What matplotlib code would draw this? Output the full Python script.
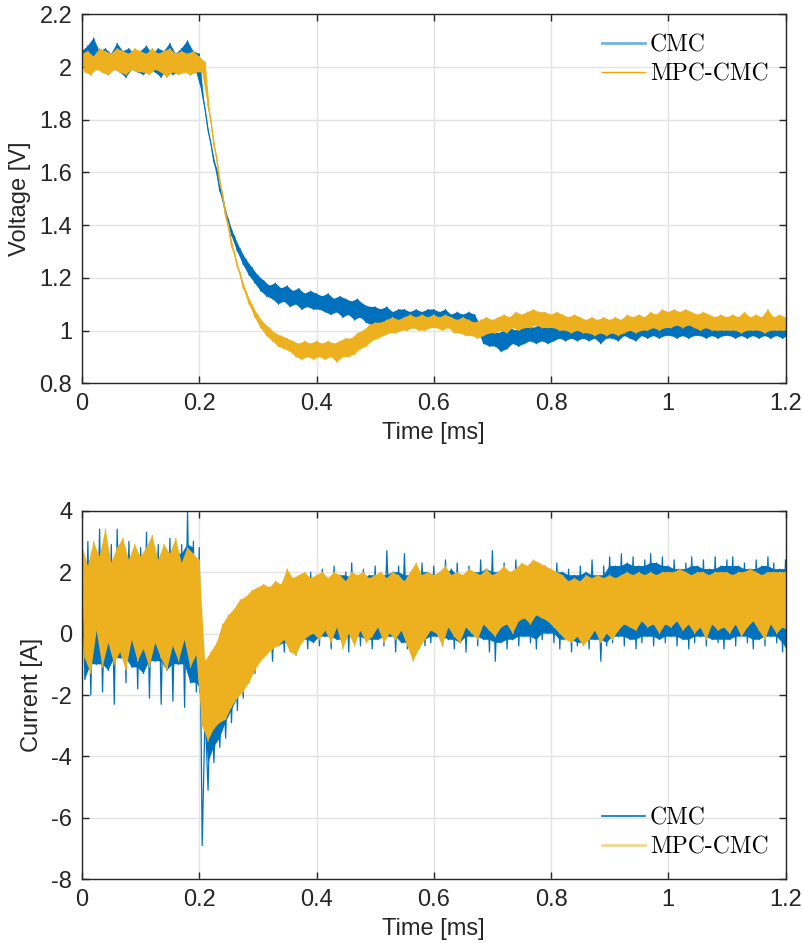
import numpy as np
import matplotlib
matplotlib.use("Agg")
import matplotlib.pyplot as plt
from matplotlib.lines import Line2D

plt.rcParams['font.family'] = ['Liberation Sans', 'DejaVu Sans']
plt.rcParams['axes.unicode_minus'] = False

# ---------------- data (envelope of noisy records) -------------
t_step = 0.01
n_pts = 121  # 0.00 ... 1.20 ms

v_cmc_hi = [2.06,2.08,2.11,2.06,2.07,2.05,2.09,2.06,2.07,2.05,
            2.06,2.08,2.05,2.07,2.06,2.09,2.05,2.07,2.10,2.06,
            2.05,1.84,1.71,1.61,1.51,1.42,1.36,1.31,1.27,1.24,
            1.21,1.19,1.17,1.18,1.16,1.17,1.15,1.16,1.14,1.15,
            1.14,1.13,1.14,1.12,1.13,1.12,1.11,1.12,1.10,1.09,
            1.09,1.08,1.09,1.07,1.08,1.08,1.07,1.08,1.07,1.08,
            1.08,1.07,1.08,1.06,1.07,1.06,1.07,1.06,1.02,1.01,
            1.00,0.99,1.00,1.01,1.00,1.01,1.02,1.01,1.02,1.01,
            1.02,1.01,1.03,1.02,1.04,1.02,1.03,1.02,1.03,1.04,
            1.03,1.02,1.03,1.02,1.03,1.02,1.03,1.02,1.03,1.04,
            1.03,1.04,1.03,1.02,1.03,1.04,1.02,1.03,1.02,1.03,
            1.02,1.03,1.02,1.04,1.02,1.03,1.02,1.03,1.02,1.03,1.02]
v_cmc_lo = [1.99,1.97,2.00,1.98,1.97,1.99,1.98,1.96,1.99,1.98,
            1.97,1.99,1.98,1.96,1.99,1.97,1.98,1.99,1.97,1.98,
            1.90,1.76,1.64,1.53,1.44,1.36,1.30,1.25,1.21,1.18,
            1.15,1.13,1.12,1.10,1.11,1.09,1.10,1.08,1.09,1.08,
            1.08,1.07,1.06,1.07,1.05,1.06,1.04,1.05,1.03,1.02,
            1.02,1.03,1.02,1.01,1.02,1.02,1.01,1.02,1.01,1.02,
            1.02,1.01,1.02,1.01,1.02,1.01,1.01,1.00,0.95,0.94,
            0.94,0.92,0.93,0.95,0.94,0.95,0.96,0.95,0.96,0.95,
            0.96,0.97,0.96,0.97,0.96,0.97,0.96,0.97,0.95,0.97,
            0.97,0.96,0.98,0.97,0.96,0.98,0.97,0.98,0.97,0.98,
            0.98,0.97,0.98,0.97,0.98,0.98,0.97,0.98,0.97,0.98,
            0.98,0.97,0.98,0.97,0.98,0.97,0.98,0.97,0.98,0.97,0.98]

v_mpc_hi = [2.05,2.06,2.04,2.07,2.06,2.05,2.07,2.06,2.05,2.07,
            2.06,2.05,2.07,2.05,2.06,2.07,2.05,2.06,2.05,2.06,
            2.04,2.02,1.80,1.66,1.52,1.40,1.30,1.22,1.15,1.10,
            1.06,1.03,1.01,0.99,0.98,0.97,0.96,0.95,0.96,0.95,
            0.96,0.95,0.96,0.95,0.96,0.97,0.97,0.99,1.00,1.02,
            1.03,1.03,1.04,1.05,1.04,1.05,1.06,1.05,1.06,1.05,
            1.06,1.05,1.06,1.05,1.04,1.05,1.04,1.03,1.04,1.05,
            1.04,1.05,1.06,1.05,1.07,1.06,1.07,1.08,1.07,1.07,
            1.06,1.07,1.06,1.05,1.06,1.05,1.04,1.05,1.04,1.05,
            1.04,1.05,1.04,1.06,1.05,1.06,1.05,1.07,1.06,1.08,
            1.07,1.08,1.07,1.08,1.07,1.06,1.07,1.06,1.05,1.06,
            1.05,1.06,1.05,1.07,1.05,1.06,1.05,1.08,1.05,1.06,1.05]
v_mpc_lo = [1.98,1.97,1.99,1.98,1.97,1.99,1.98,1.97,1.99,1.98,
            1.98,1.97,1.99,1.98,1.96,1.98,1.97,1.98,1.97,1.98,
            1.98,1.85,1.70,1.56,1.43,1.32,1.24,1.16,1.10,1.05,
            1.01,0.98,0.96,0.94,0.93,0.92,0.90,0.89,0.90,0.89,
            0.90,0.89,0.90,0.88,0.90,0.90,0.91,0.93,0.94,0.96,
            0.97,0.98,0.99,0.99,1.00,1.00,1.01,1.00,1.00,1.01,
            1.01,1.00,1.01,0.99,0.99,0.98,0.98,0.97,0.98,0.99,
            0.99,1.00,0.99,1.01,1.00,1.01,1.01,1.02,1.01,1.01,
            1.01,1.00,1.00,0.99,1.00,0.99,0.99,0.98,0.99,0.98,
            0.99,0.98,0.99,1.00,0.99,1.00,1.00,1.01,1.00,1.01,
            1.01,1.02,1.01,1.02,1.01,1.00,1.01,1.00,1.00,1.00,
            1.00,1.00,0.99,1.00,1.00,1.00,0.99,1.00,1.00,1.00,1.00]

i_cmc_hi = [2.3,3.0,2.6,3.4,2.0,2.9,3.4,2.5,3.0,2.2,
            2.8,3.3,2.4,2.9,2.1,3.1,2.6,2.9,4.0,3.0,
            2.8,-2.5,-1.5,-1.0,-0.8,-0.2,0.2,0.6,1.0,1.1,
            1.3,1.5,1.4,1.7,1.5,1.9,1.6,1.8,1.7,2.0,
            1.8,2.1,1.7,2.2,1.9,2.0,2.3,1.8,2.1,1.9,
            2.2,1.9,2.7,2.0,2.2,2.6,1.9,2.1,2.3,2.0,
            2.2,1.9,2.4,2.1,2.3,1.9,2.2,2.0,2.4,2.1,
            2.7,2.0,2.3,1.9,2.4,2.2,2.0,2.3,2.1,2.2,
            2.0,2.3,2.0,2.1,1.9,2.2,2.0,2.4,1.9,2.2,
            2.5,2.2,2.6,2.3,2.5,2.2,2.4,2.6,2.3,2.5,
            2.2,2.4,2.1,2.3,2.5,2.2,2.4,2.1,2.5,2.2,
            2.4,2.5,2.2,2.3,2.1,2.4,2.2,2.5,2.3,2.1,2.4]
i_cmc_lo = [-1.5,-2.0,-1.0,-1.9,-1.2,-2.3,-0.8,-1.6,-1.1,-1.8,
            -1.3,-2.1,-0.9,-2.3,-1.2,-2.2,-1.0,-2.4,-1.6,-1.9,
            -6.9,-5.1,-4.2,-3.7,-3.4,-2.9,-2.5,-2.1,-1.6,-1.3,
            -0.8,-0.6,-0.9,-0.4,-0.6,-0.3,-0.7,-0.2,-0.5,-0.3,
            -0.4,-0.1,-0.5,-0.2,-0.3,-0.6,-0.1,-0.4,-0.2,-0.5,
            -0.2,-0.4,-0.1,-0.6,-0.3,-0.5,-0.8,-0.2,-0.4,-0.3,
            -0.1,-0.4,-0.2,-0.5,-0.3,-0.6,-0.1,-0.4,-0.2,-0.6,
            -0.9,-0.3,-0.5,-0.2,-0.4,-0.1,-0.3,-0.5,-0.2,0.0,
            -0.3,-0.5,-0.2,-0.6,-0.4,-0.3,-0.5,-0.2,-0.9,-0.4,
            -0.3,-0.1,-0.4,-0.2,-0.5,-0.3,-0.1,-0.4,-0.2,-0.3,
            -0.1,-0.4,-0.2,-0.5,-0.3,-0.1,-0.4,-0.2,-0.3,-0.5,
            -0.2,-0.4,-0.1,-0.3,-0.5,-0.2,-0.4,-0.1,-0.3,-0.6,-0.7]

i_mpc_hi = [2.9,2.2,3.0,2.5,3.4,2.3,2.8,3.1,2.4,2.9,
            2.5,2.8,3.2,2.4,2.9,2.6,3.1,2.3,2.8,2.6,
            2.4,-0.9,-0.6,-0.3,0.3,0.6,0.8,1.1,1.2,1.4,
            1.5,1.6,1.5,1.7,1.6,2.1,1.8,1.9,2.0,1.8,
            1.9,2.0,1.8,2.0,1.9,1.7,2.0,1.9,2.0,1.8,
            1.9,2.0,1.8,2.0,1.9,1.7,2.0,2.3,1.9,2.0,
            1.9,2.0,2.2,1.9,2.0,1.9,2.1,2.0,1.9,2.1,
            1.9,2.0,2.2,2.0,2.1,2.3,2.2,2.4,2.3,2.2,
            2.1,2.0,1.9,1.7,1.8,1.7,1.9,1.8,1.9,1.8,
            1.9,1.8,1.9,2.0,1.9,2.0,1.9,2.0,1.9,2.0,
            2.0,2.0,2.1,2.0,1.9,2.0,2.0,1.9,2.0,2.0,
            2.0,1.9,2.0,2.0,2.1,2.0,1.9,2.0,2.0,2.0,2.0]
i_mpc_lo = [-0.8,-1.3,0.1,-1.1,-0.3,-1.0,-0.6,-1.2,-0.2,-0.9,
            -0.5,-1.1,-0.3,-0.8,-1.2,-0.4,-0.9,-0.2,-1.1,-0.7,
            -3.0,-3.5,-3.1,-2.9,-2.8,-2.4,-2.1,-1.9,-1.6,-1.2,
            -0.9,-0.7,-0.5,-0.4,-0.2,-0.6,-0.7,-0.3,-0.1,0.0,
            -0.2,0.1,-0.3,0.2,-0.5,0.0,-0.4,0.1,-0.3,-0.1,
            0.2,-0.3,0.0,-0.2,0.1,-0.4,-0.9,-0.5,-0.2,0.1,
            0.0,-0.4,0.2,-0.1,-0.3,0.2,0.0,-0.2,0.3,0.1,
            -0.1,0.2,0.3,0.0,0.4,0.5,0.3,0.6,0.5,0.4,
            0.2,0.0,-0.2,-0.3,-0.1,-0.4,-0.2,0.1,-0.3,0.0,
            -0.2,0.1,0.3,0.2,0.1,0.4,0.2,0.3,0.0,0.3,
            0.2,0.4,0.1,0.3,0.0,0.2,-0.2,0.3,0.1,0.2,
            0.0,0.3,-0.1,0.2,0.4,0.1,-0.2,0.3,0.0,0.2,0.1]

series_labels = ["CMC", "MPC-CMC"]
x_ticks = [0, 0.2, 0.4, 0.6, 0.8, 1.0, 1.2]
x_ticklabels = ["0", "0.2", "0.4", "0.6", "0.8", "1", "1.2"]
v_ticks = [0.8, 1.0, 1.2, 1.4, 1.6, 1.8, 2.0, 2.2]
v_ticklabels = ["0.8", "1", "1.2", "1.4", "1.6", "1.8", "2", "2.2"]
i_ticks = [-8, -6, -4, -2, 0, 2, 4]
i_ticklabels = ["-8", "-6", "-4", "-2", "0", "2", "4"]

# ---------------- build traces from envelopes ----------------
t_hi = np.arange(n_pts) * t_step
t_lo = t_hi + t_step / 2


def zigzag(hi, lo):
    t = np.empty(2 * n_pts)
    y = np.empty(2 * n_pts)
    t[0::2] = t_hi
    t[1::2] = t_lo
    y[0::2] = hi
    y[1::2] = lo
    return t, y


def core(hi, lo):
    hi = np.asarray(hi, float)
    lo = np.asarray(lo, float)
    hp = np.pad(hi, 1, mode='edge')
    lp = np.pad(lo, 1, mode='edge')
    c_hi = np.minimum(np.minimum(hp[:-2], hp[1:-1]), hp[2:])
    c_lo = np.maximum(np.maximum(lp[:-2], lp[1:-1]), lp[2:])
    c_hi = np.maximum(c_hi, c_lo)
    return c_lo, c_hi


BLUE = "#0072BD"
YELLOW = "#EDB120"
GRIDC = "#e3e3e3"
AXC = "#262626"
FS = 17

fig = plt.figure(figsize=(8.04, 9.43), dpi=100)
ax1 = fig.add_axes([0.102, 0.5935, 0.875, 0.3913])
ax2 = fig.add_axes([0.102, 0.0675, 0.875, 0.3909])

panels = [
    (ax1, [((v_cmc_hi, v_cmc_lo), BLUE, 3, False),
           ((v_mpc_hi, v_mpc_lo), YELLOW, 5, False)]),
    (ax2, [((i_cmc_hi, i_cmc_lo), BLUE, 3, True),
           ((i_mpc_hi, i_mpc_lo), YELLOW, 5, False)]),
]
for ax, series in panels:
    for (h, l), col, z, use_core in series:
        if use_core:
            fl, fh = core(h, l)
        else:
            fl, fh = np.asarray(l, float), np.asarray(h, float)
        poly_t = np.concatenate([t_hi, t_lo[::-1]])
        poly_y = np.concatenate([fh, fl[::-1]])
        ax.fill(poly_t, poly_y, color=col, lw=0, zorder=z)
        tz, yz = zigzag(h, l)
        ax.plot(tz, yz, color=col, lw=0.9, zorder=z + 0.5)
    ax.set_xlim(0, 1.2)
    ax.set_xticks(x_ticks)
    ax.set_xticklabels(x_ticklabels)
    ax.grid(True, color=GRIDC, lw=1.0, zorder=0)
    ax.set_axisbelow(True)
    for s in ax.spines.values():
        s.set_color(AXC)
        s.set_linewidth(1.0)
        s.set_zorder(10)
    ax.tick_params(direction='in', length=5, width=1.0, colors=AXC,
                   labelsize=FS, top=True, right=True, pad=7)
    ax.set_xlabel("Time [ms]", fontsize=FS, color=AXC, labelpad=5)

ax1.set_ylim(0.8, 2.2)
ax1.set_yticks(v_ticks)
ax1.set_yticklabels(v_ticklabels)
ax1.set_ylabel("Voltage [V]", fontsize=FS, color=AXC, labelpad=6)

ax2.set_ylim(-8, 4)
ax2.set_yticks(i_ticks)
ax2.set_yticklabels(i_ticklabels)
ax2.set_ylabel("Current [A]", fontsize=FS, color=AXC, labelpad=6)

leg_font = {'family': 'cmr10', 'size': 17}
h_top = [Line2D([], [], color="#72b2e0", lw=2.0),
         Line2D([], [], color="#f0a500", lw=1.0)]
h_bot = [Line2D([], [], color=BLUE, lw=1.2),
         Line2D([], [], color="#f3d691", lw=2.0)]
for ax, h, anchor in [(ax1, h_top, (602 / 804, 1 - 34 / 943)),
                      (ax2, h_bot, (602 / 804, 1 - 807 / 943))]:
    leg = ax.legend(h, series_labels, loc='upper left', bbox_to_anchor=anchor,
                    bbox_transform=fig.transFigure, frameon=False, prop=leg_font,
                    borderpad=0, borderaxespad=0, handlelength=1.82,
                    handletextpad=0.2, labelspacing=0.3)
    leg.set_zorder(20)

fig.savefig("out.png", dpi=100)
